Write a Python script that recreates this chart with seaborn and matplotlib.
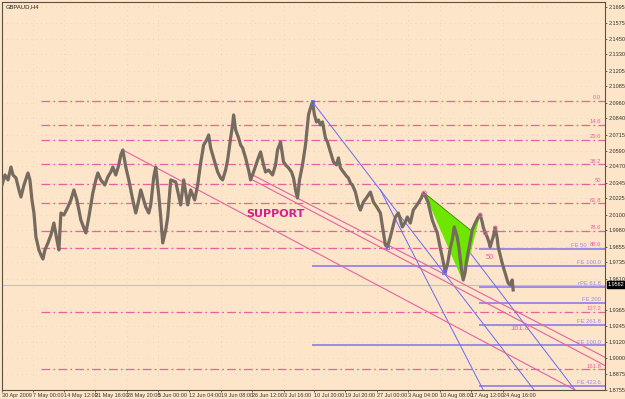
import matplotlib
matplotlib.use("Agg")
import matplotlib.pyplot as plt
import seaborn as sns
import pandas as pd

# ---------------- data ----------------
bars = [1,4,7,10,12,15,18,20,23,27,29,31,33,35,38,40,42,44,47,50,53,56,58,60,63,67,70,73,76,80,
        83,85,88,90,92,95,97,100,104,107,110,112,115,118,120,122,125,128,132,135,138,140,143,145,148,150,
        153,155,158,160,162,165,167,170,
        175,180,183,187,190,194,197,200,203,206,208,210,212,215,217,220,222,225,227,230,232,233,235,238,
        240,242,245,248,250,253,257,260,263,265,268,272,275,277,280,283,286,288,291,293,295,297,299,302,
        305,308,310,312,314,316,318,320,322,325,327,330,
        333,336,338,340,343,346,348,350,352,355,358,360,363,366,370,373,377,380,
        383,385,387,390,393,395,398,400,402,405,407,410,413,416,418,421,423,426,428,430,432,435,437,440,
        442,445,447,448,450,452,454,457,459,461,463,465,466,468,469,471,472,475,478,480,482,483,485,487,
        489,490,492,493,495,497,498,500,502,504,505,507,508,510,512,513]
close = [2.0328,2.0405,2.0367,2.0466,2.0405,2.0382,2.0290,2.0236,2.0328,2.0420,2.0367,2.0213,2.0113,
         1.9929,1.9829,1.9791,1.9760,1.9829,1.9883,1.9944,2.0036,1.9906,1.9829,2.0113,2.0098,2.0159,
         2.0213,2.0290,2.0213,2.0059,1.9998,1.9960,2.0082,2.0175,2.0267,2.0367,2.0420,2.0367,2.0328,
         2.0390,2.0428,2.0466,2.0405,2.0482,2.0559,2.0597,2.0466,2.0367,2.0213,2.0113,2.0213,2.0290,
         2.0213,2.0159,2.0113,2.0175,2.0390,2.0466,2.0251,2.0082,1.9883,1.9983,2.0082,2.0367,
         2.0351,2.0175,2.0367,2.0175,2.0290,2.0213,2.0328,2.0497,2.0635,2.0674,2.0712,2.0612,2.0559,
         2.0482,2.0428,2.0382,2.0367,2.0443,2.0520,2.0689,2.0789,2.0866,2.0751,2.0689,2.0635,2.0612,
         2.0536,2.0443,2.0367,2.0428,2.0520,2.0582,2.0482,2.0428,2.0443,2.0405,2.0482,2.0597,2.0658,
         2.0505,2.0474,2.0459,2.0428,2.0382,2.0290,2.0228,2.0367,2.0482,2.0635,2.0866,2.0920,2.0966,
         2.0866,2.0812,2.0827,2.0789,2.0812,2.0689,2.0658,2.0582,
         2.0505,2.0482,2.0536,2.0459,2.0428,2.0397,2.0382,2.0344,2.0328,2.0274,2.0175,2.0136,2.0198,
         2.0228,2.0274,2.0198,2.0152,2.0113,
         1.9967,1.9867,1.9852,1.9929,2.0021,2.0082,2.0113,2.0059,2.0006,2.0044,2.0082,2.0036,2.0136,
         2.0167,2.0190,2.0228,2.0267,2.0228,2.0190,2.0121,2.0059,1.9998,1.9960,1.9844,1.9775,1.9660,
         1.9714,1.9752,1.9844,1.9906,2.0006,1.9929,1.9829,1.9691,1.9599,1.9660,1.9729,1.9814,1.9852,
         1.9937,1.9983,2.0036,2.0082,2.0098,2.0044,2.0006,1.9960,1.9929,1.9883,1.9852,1.9906,1.9929,
         1.9998,1.9921,1.9852,1.9791,1.9729,1.9675,1.9652,1.9599,1.9576,1.9560,1.9599,1.9522]

y_ticks = [2.1695,2.1575,2.1450,2.1330,2.1205,2.1085,2.0960,2.0840,2.0715,2.0590,2.0470,2.0345,
           2.0225,2.0100,1.9980,1.9855,1.9735,1.9610,1.9365,1.9245,1.9120,1.9000,1.8875,1.8755]
y_tick_labels = ["%.4f" % v for v in y_ticks]
x_tick_bars = [1,32,63,94,126,157,188,220,251,283,314,345,377,408,440,471,503]
x_tick_labels = ["30 Apr 2009","7 May 00:00","14 May 12:00","21 May 16:00","28 May 20:00",
                 "5 Jun 00:00","12 Jun 04:00","19 Jun 08:00","26 Jun 12:00","3 Jul 16:00",
                 "10 Jul 20:00","19 Jul 20:00","27 Jul 00:00","3 Aug 04:00","10 Aug 08:00",
                 "17 Aug 12:00","24 Aug 16:00"]

fib_labels = ["0.0","14.6","23.6","38.2","50","61.8","78.6","88.6","127.2","161.8"]
fib_prices = [2.0973,2.0789,2.0674,2.0489,2.0336,2.0188,1.9975,1.9847,1.9356,1.8915]
fib_start = 40

fe_labels = ["FE 50","FE 100.0","rPE 61.8","FE 200","FE 261.8","FE 100.0","FE 423.6"]
fe_prices = [1.9837,1.9706,1.9545,1.9422,1.9253,1.9099,1.8785]
fe_start = [480,313,480,480,480,313,480]

bid_label = "1.9562"
bid_price = 1.9562

# trend lines: (bar0, price0, bar1, price1)
blue_lines = [(312,2.0966,534,1.8754),(380,2.0290,483,1.8754),(424,2.0267,575,1.8754)]
pink_lines = [(122,2.0597,575,1.8754),(252,2.0405,605,1.9005),(252,2.0367,605,1.8942)]

# harmonic pattern (green) vertices
pat_bars = [424,463,470,480]
pat_prices = [2.0267,1.9583,1.9983,2.0098]

# ---------------- drawing ----------------
BG = "#fde5c9"
PINK = "#e462a2"
LAV = "#9d8ae6"
BLUE = "#6a6af0"
FONT = ["Liberation Sans Narrow", "Liberation Sans", "DejaVu Sans"]
plt.rcParams["font.family"] = FONT

fig = plt.figure(figsize=(6.25, 3.99), dpi=100, facecolor=BG)
ax = fig.add_axes([2/625, 9/399, 603/625, 388/399])
ax.set_facecolor(BG)

ymin, ymax = 1.8754, 2.1733
ax.set_xlim(2, 605)
ax.set_ylim(ymin, ymax)

ax.grid(True, color="#c9b8a4", linestyle=(0, (1, 6)), linewidth=0.5, alpha=0.6)
ax.set_axisbelow(True)

# fib levels
for lab, p in zip(fib_labels, fib_prices):
    ax.plot([fib_start, 605], [p, p], color=PINK, lw=0.9, ls=(0, (7, 2.5, 1.5, 2.5)), zorder=2)
    ax.text(601, p + 0.0004, lab, color=PINK, fontsize=4.2, ha="right", va="bottom", zorder=5)

# FE levels
for lab, p, s in zip(fe_labels, fe_prices, fe_start):
    ax.plot([s, 605], [p, p], color=LAV, lw=1.4, zorder=2)
    ax.text(601 if lab != "FE 50" else 587, p + 0.0004, lab, color=LAV, fontsize=4.2,
            ha="right", va="bottom", zorder=5)

# bid line
ax.plot([2, 605], [bid_price, bid_price], color="#c6b6ee", lw=0.8, zorder=2)

# trend lines
for b0, p0, b1, p1 in blue_lines:
    ax.plot([b0, b1], [p0, p1], color=BLUE, lw=0.7, zorder=3)
for b0, p0, b1, p1 in pink_lines:
    ax.plot([b0, b1], [p0, p1], color=PINK, lw=0.8, zorder=3)

# green pattern
ax.fill([pat_bars[0], pat_bars[1], pat_bars[2]], [pat_prices[0], pat_prices[1], pat_prices[2]],
        color="#6fe600", zorder=3, lw=0)
ax.fill([pat_bars[2], pat_bars[3], pat_bars[1]], [pat_prices[2], pat_prices[3], pat_prices[1]],
        color="#6fe600", zorder=3, lw=0)
ax.plot([pat_bars[0], pat_bars[2]], [pat_prices[0], pat_prices[2]], color="#2f8a00", lw=0.6, zorder=3)

# price series
df = pd.DataFrame({"bar": bars, "close": close})
sns.lineplot(data=df, x="bar", y="close", color="#776b5f", lw=2.3, estimator=None, sort=False,
             ax=ax, zorder=4)

# pattern markers
ax.scatter([424, 480, 485, 495], [2.0267, 2.0098, 1.9960, 1.9998], s=8, facecolors="none",
           edgecolors=PINK, lw=0.6, zorder=6)
ax.scatter([312, 387, 444], [2.0966, 1.9852, 1.9660], s=7, marker="s", facecolors="none",
           edgecolors=BLUE, lw=0.6, zorder=6)

ax.text(275, 2.0105, "SUPPORT", color="#d3208c", fontsize=8, fontweight="bold",
        family="DejaVu Sans", ha="center", va="center", zorder=6)
ax.text(490, 1.9770, "50", color=PINK, fontsize=5.5, ha="center", va="center", zorder=6)
ax.text(520, 1.9225, "161.8", color=PINK, fontsize=5.5, ha="center", va="center", zorder=6)

ax.text(0.006, 0.995, "GBPAUD,H4", transform=ax.transAxes, fontsize=4.2, color="#222222",
        ha="left", va="top")

# axes styling
ax.yaxis.tick_right()
ax.set_yticks(y_ticks)
ax.set_yticklabels(y_tick_labels)
ax.set_xticks(x_tick_bars)
ax.set_xticklabels(x_tick_labels, ha="left")
ax.tick_params(axis="both", labelsize=4.0, colors="#333333", length=1.5, width=0.5, pad=0.8)
ax.set_xlabel("")
ax.set_ylabel("")
for sp in ax.spines.values():
    sp.set_color("#5b5044")
    sp.set_linewidth(0.8)

ax.text(1.004, bid_price, bid_label, transform=ax.get_yaxis_transform(), fontsize=4.0,
        color="white", ha="left", va="center",
        bbox=dict(boxstyle="square,pad=0.15", fc="black", ec="black"), zorder=7)

fig.savefig("out.png", dpi=100, facecolor=BG)
